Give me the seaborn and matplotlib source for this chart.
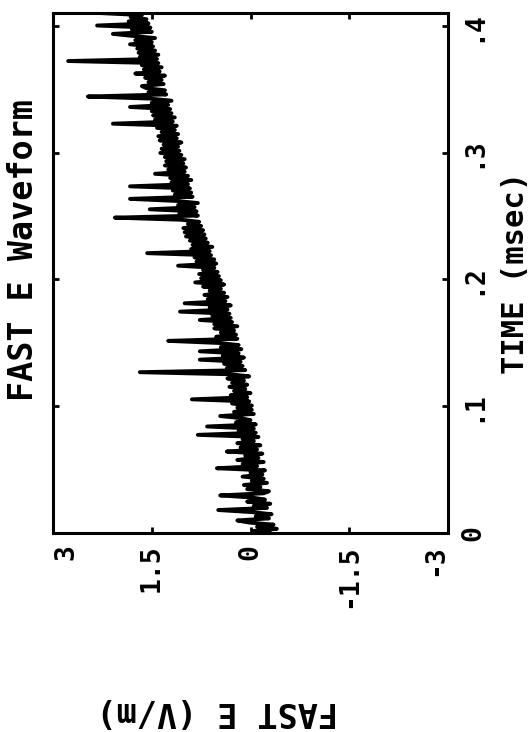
import numpy as np
import matplotlib
matplotlib.use("Agg")
import matplotlib.pyplot as plt
import seaborn as sns

fast_e = [
    -0.30, -0.05, -0.40, -0.10, -0.35, 0.02, 0.20, -0.28, -0.08, -0.32,
    -0.02, 0.49, -0.25, -0.05, -0.30, 0.05, -0.22, -0.02, 0.46, -0.20,
    -0.28, 0.05, -0.15, 0.10, -0.25, -0.02, -0.20, 0.12, -0.18, 0.00,
    -0.22, 0.51, -0.10, 0.12, -0.20, 0.20, -0.12, 0.08, -0.18, 0.36,
    -0.10, 0.15, -0.15, 0.20, -0.05, 0.12, -0.12, 0.80, -0.08, 0.18,
    -0.05, 0.66, -0.08, 0.22, 0.00, 0.15, 0.46, -0.05, 0.25, -0.02,
    0.20, -0.02, 0.28, 0.02, 0.89, 0.05, 0.30, 0.00, 0.25, 0.08,
    0.32, 0.05, 0.28, 0.10, 0.35, 0.02, 0.30, 1.68, 0.08, 0.36,
    0.12, 0.40, 0.15, 0.77, 0.10, 0.42, 0.18, 0.77, 0.14, 0.45,
    0.18, 0.48, 1.25, 0.20, 0.52, 0.22, 0.45, 0.25, 0.55, 0.20,
    0.55, 0.28, 0.77, 0.30, 0.58, 0.32, 1.07, 0.35, 0.62, 0.30,
    1.00, 0.38, 0.65, 0.35, 0.70, 0.40, 0.62, 0.45, 0.72, 0.40,
    0.84, 0.45, 0.75, 0.48, 0.78, 0.50, 0.72, 0.55, 1.10, 0.52,
    0.82, 0.55, 0.85, 0.60, 1.57, 0.62, 0.90, 0.58, 0.88, 0.65,
    0.92, 0.68, 0.98, 0.70, 1.00, 0.72, 1.02, 0.75, 0.95, 0.78,
    1.05, 2.06, 0.80, 1.08, 0.82, 1.53, 0.85, 1.10, 0.80, 1.12,
    1.83, 0.88, 1.15, 0.90, 1.18, 0.92, 1.83, 0.95, 1.20, 0.90,
    1.22, 0.95, 1.45, 1.00, 1.25, 0.98, 1.30, 1.02, 1.28, 1.00,
    1.30, 1.05, 1.37, 1.08, 1.35, 1.10, 1.32, 1.05, 1.38, 1.12,
    1.40, 1.10, 1.35, 1.15, 1.42, 1.12, 2.09, 1.18, 1.45, 1.15,
    1.48, 1.20, 1.50, 1.22, 1.83, 1.25, 1.50, 1.20, 1.52, 2.47,
    1.28, 1.55, 1.30, 1.58, 1.65, 1.32, 1.55, 1.35, 1.60, 1.30,
    1.75, 1.38, 1.62, 1.35, 1.65, 1.40, 2.77, 1.42, 1.68, 1.40,
    1.70, 1.45, 1.72, 1.48, 1.83, 1.50, 1.75, 1.45, 1.78, 2.09,
    1.50, 1.80, 1.52, 2.33, 1.55, 1.85, 1.58, 1.82, 1.65, 2.30,
]
t_end = 0.41  # msec, record length
time_ms = np.linspace(0, t_end, len(fast_e))

e_ticks = [3, 1.5, 0, -1.5, -3]
e_labels = ["3", "1.5", "0", "-1.5", "-3"]
t_ticks = [0, 0.1, 0.2, 0.3, 0.4]
t_labels = ["0", ".1", ".2", ".3", ".4"]

sns.set_style("white")
plt.rcParams["font.family"] = ["DejaVu Sans Mono"]
plt.rcParams["font.weight"] = "bold"
for key in ["text.color", "axes.labelcolor", "xtick.color", "ytick.color"]:
    plt.rcParams[key] = "black"

fig = plt.figure(figsize=(5.32, 7.32), dpi=100)
ax = fig.add_axes([53 / 532, 1 - 533 / 732, 395 / 532, 520 / 732])

# page is turned sideways: time runs up, field runs right-to-left
sns.lineplot(x=fast_e, y=time_ms, orient="y", sort=False, estimator=None,
             color="black", linewidth=2.8, ax=ax)

ax.set_xlim(3, -3)
ax.set_ylim(0, t_end)

for s in ax.spines.values():
    s.set_linewidth(2.2)
    s.set_color("black")

ax.set_xticks(e_ticks)
ax.set_xticklabels(e_labels, rotation=90, fontsize=19, fontweight="bold")
xl = ax.get_xticklabels()
xl[0].set_horizontalalignment("left")
xl[-1].set_horizontalalignment("right")

ax.yaxis.tick_right()
ax.set_yticks(t_ticks)
ax.set_yticklabels(t_labels, rotation=90, fontsize=19, fontweight="bold",
                   va="center")
ax.tick_params(axis="both", direction="in", length=4, width=2, color="black",
               labelcolor="black", top=True, bottom=True, left=True,
               right=True, pad=8)
ax.tick_params(axis="y", labelleft=False, labelright=True, pad=9)

ax.set_xlabel("FAST E (V/m)", rotation=180, fontsize=24, fontweight="bold",
              va="center", ha="center", color="black")
ax.xaxis.set_label_coords((217 - 53) / 395, (533 - 712) / 520)

ax.yaxis.set_label_position("right")
ax.set_ylabel("TIME (msec)", rotation=90, fontsize=22, fontweight="bold",
              va="center", ha="center", color="black")
ax.yaxis.set_label_coords((516 - 53) / 395, 0.5)

ax.text(-(53 - 24) / 395, (533 - 250) / 520, "FAST E Waveform", rotation=90,
        fontsize=24, fontweight="bold", ha="center", va="center",
        color="black", transform=ax.transAxes)

fig.savefig("out.png", dpi=100, facecolor="white")
